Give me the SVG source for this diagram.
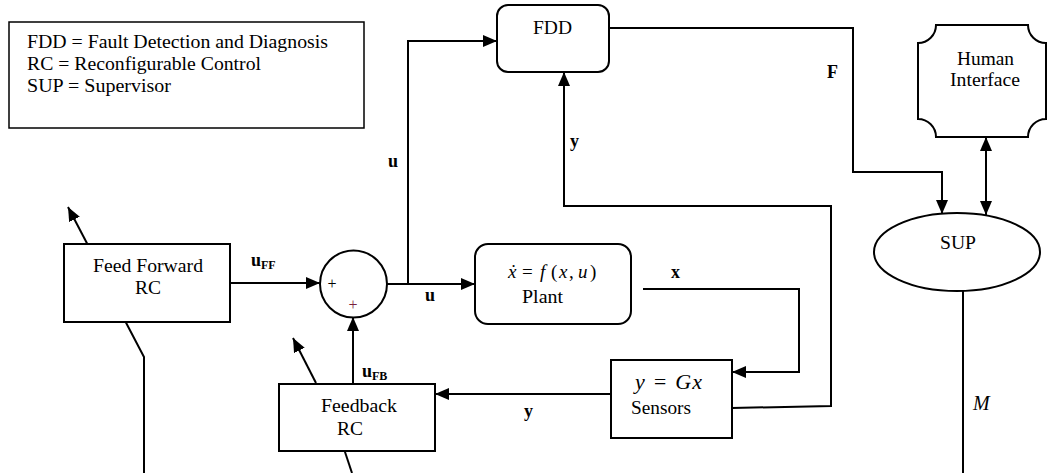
<svg xmlns="http://www.w3.org/2000/svg" width="1047" height="473" viewBox="0 0 1047 473">
<defs>
  <marker id="ah" markerUnits="userSpaceOnUse" markerWidth="14" markerHeight="12" refX="14" refY="6" orient="auto">
    <path d="M0,0 L14,6 L0,12 z" fill="#000"/>
  </marker>
  <marker id="as" markerUnits="userSpaceOnUse" markerWidth="14" markerHeight="12" refX="14" refY="6" orient="auto-start-reverse">
    <path d="M0,0 L14,6 L0,12 z" fill="#000"/>
  </marker>
</defs>
<rect width="1047" height="473" fill="#fff"/>

<g id="legend">
  <rect x="9" y="22" width="355" height="106" fill="#fff" stroke="#000" stroke-width="1.5"/>
  <text font-family="Liberation Serif" font-size="19.5" x="27" y="48" textLength="301" lengthAdjust="spacingAndGlyphs">FDD = Fault Detection and Diagnosis</text>
  <text font-family="Liberation Serif" font-size="19.5" x="27" y="70" textLength="234" lengthAdjust="spacingAndGlyphs">RC = Reconfigurable Control</text>
  <text font-family="Liberation Serif" font-size="19.5" x="27" y="92" textLength="144" lengthAdjust="spacingAndGlyphs">SUP = Supervisor</text>
</g>

<g id="connectors" fill="none" stroke="#000" stroke-width="2">
  <path d="M230,283 H320" marker-end="url(#ah)"/>
  <path d="M387,284 H475" marker-end="url(#ah)"/>
  <path d="M408,284 V41 H497" marker-end="url(#ah)"/>
  <path d="M609,28 H853 V172 H942 V214" marker-end="url(#ah)"/>
  <path d="M986,137 V215" marker-start="url(#as)" marker-end="url(#ah)"/>
  <path d="M643,289 H799 V372 H732" marker-end="url(#ah)"/>
  <path d="M732,408 L831,406 V206 H564 V72" marker-end="url(#ah)"/>
  <path d="M611,394 H435" marker-end="url(#ah)"/>
  <path d="M353,384 V317" marker-end="url(#ah)"/>
  <path d="M91,251 L68,207" marker-end="url(#ah)"/>
  <path d="M122,315 L144,357 V473"/>
  <path d="M316,383 L293,338" marker-end="url(#ah)"/>
  <path d="M344,449 L352,473"/>
  <path d="M963,291 V473"/>
</g>

<g id="labels">
  <text font-family="Liberation Serif" font-size="18" font-weight="bold" x="251" y="266">u<tspan font-size="12" dy="3">FF</tspan></text>
  <text font-family="Liberation Serif" font-size="18" font-weight="bold" x="362" y="377">u<tspan font-size="12" dy="3">FB</tspan></text>
  <text font-family="Liberation Serif" font-size="18" font-weight="bold" x="425" y="301">u</text>
  <text font-family="Liberation Serif" font-size="18" font-weight="bold" x="388" y="167">u</text>
  <text font-family="Liberation Serif" font-size="18" font-weight="bold" x="570" y="147">y</text>
  <text font-family="Liberation Serif" font-size="18" font-weight="bold" x="827" y="78">F</text>
  <text font-family="Liberation Serif" font-size="18" font-weight="bold" x="671" y="278">x</text>
  <text font-family="Liberation Serif" font-size="18" font-weight="bold" x="524" y="417">y</text>
  <text font-family="Liberation Serif" font-size="20" font-style="italic" x="973" y="410">M</text>
</g>

<g id="ff-rc">
  <rect x="64" y="244" width="166" height="78" fill="#fff" stroke="#000" stroke-width="2"/>
  <text font-family="Liberation Serif" font-size="19.5" x="93" y="272" textLength="110" lengthAdjust="spacingAndGlyphs">Feed Forward</text>
  <text font-family="Liberation Serif" font-size="19.5" x="135" y="294" textLength="26" lengthAdjust="spacingAndGlyphs">RC</text>
</g>

<g id="sum">
  <circle cx="353.5" cy="284" r="33.5" fill="#fff" stroke="#000" stroke-width="2"/>
  <text font-family="Liberation Serif" font-size="16" text-anchor="middle" x="332" y="289" fill="#000">+</text>
  <text font-family="Liberation Serif" font-size="16" text-anchor="middle" x="353" y="310" fill="#7a1f3d">+</text>
</g>

<g id="fb-rc">
  <rect x="279" y="384" width="156" height="67" fill="#fff" stroke="#000" stroke-width="2"/>
  <text font-family="Liberation Serif" font-size="19.5" x="321" y="412" textLength="76" lengthAdjust="spacingAndGlyphs">Feedback</text>
  <text font-family="Liberation Serif" font-size="19.5" x="337" y="435" textLength="26" lengthAdjust="spacingAndGlyphs">RC</text>
</g>

<g id="fdd">
  <rect x="497" y="5" width="112" height="67" rx="11" fill="#fff" stroke="#000" stroke-width="2"/>
  <text font-family="Liberation Serif" font-size="19.5" x="533" y="34" textLength="39" lengthAdjust="spacingAndGlyphs">FDD</text>
</g>

<g id="plant">
  <rect x="475" y="244" width="156" height="80" rx="13" fill="#fff" stroke="#000" stroke-width="2"/>
  <text font-family="Liberation Serif" font-size="19" font-style="italic" x="508" y="278">ẋ</text>
  <text font-family="Liberation Serif" font-size="19" x="522" y="278">=</text>
  <text font-family="Liberation Serif" font-size="19" font-style="italic" x="540" y="278">f</text>
  <text font-family="Liberation Serif" font-size="19" x="551" y="278">(</text>
  <text font-family="Liberation Serif" font-size="19" font-style="italic" x="559" y="278">x</text>
  <text font-family="Liberation Serif" font-size="19" x="569" y="278">,</text>
  <text font-family="Liberation Serif" font-size="19" font-style="italic" x="578" y="278">u</text>
  <text font-family="Liberation Serif" font-size="19" x="590" y="278">)</text>
  <text font-family="Liberation Serif" font-size="19.5" x="522" y="303" textLength="41" lengthAdjust="spacingAndGlyphs">Plant</text>
</g>

<g id="sensors">
  <rect x="611" y="360" width="121" height="78" fill="#fff" stroke="#000" stroke-width="2"/>
  <text font-family="Liberation Serif" font-size="22" font-style="italic" x="635" y="389" textLength="67" lengthAdjust="spacing">y = Gx</text>
  <text font-family="Liberation Serif" font-size="19.5" x="631" y="414" textLength="60" lengthAdjust="spacingAndGlyphs">Sensors</text>
</g>

<g id="sup">
  <ellipse cx="957" cy="252" rx="83" ry="39" fill="#fff" stroke="#000" stroke-width="2"/>
  <text font-family="Liberation Serif" font-size="19.5" x="940" y="249" textLength="36" lengthAdjust="spacingAndGlyphs">SUP</text>
</g>

<g id="human">
  <path d="M936,25 H1028 A18,18 0 0 0 1046,43 V119 A18,18 0 0 0 1028,137 H936 A18,18 0 0 0 918,119 V43 A18,18 0 0 0 936,25 Z" fill="#fff" stroke="#000" stroke-width="2"/>
  <text font-family="Liberation Serif" font-size="19.5" x="957" y="65" textLength="57" lengthAdjust="spacingAndGlyphs">Human</text>
  <text font-family="Liberation Serif" font-size="19.5" x="950" y="86" textLength="70" lengthAdjust="spacingAndGlyphs">Interface</text>
</g>
</svg>
